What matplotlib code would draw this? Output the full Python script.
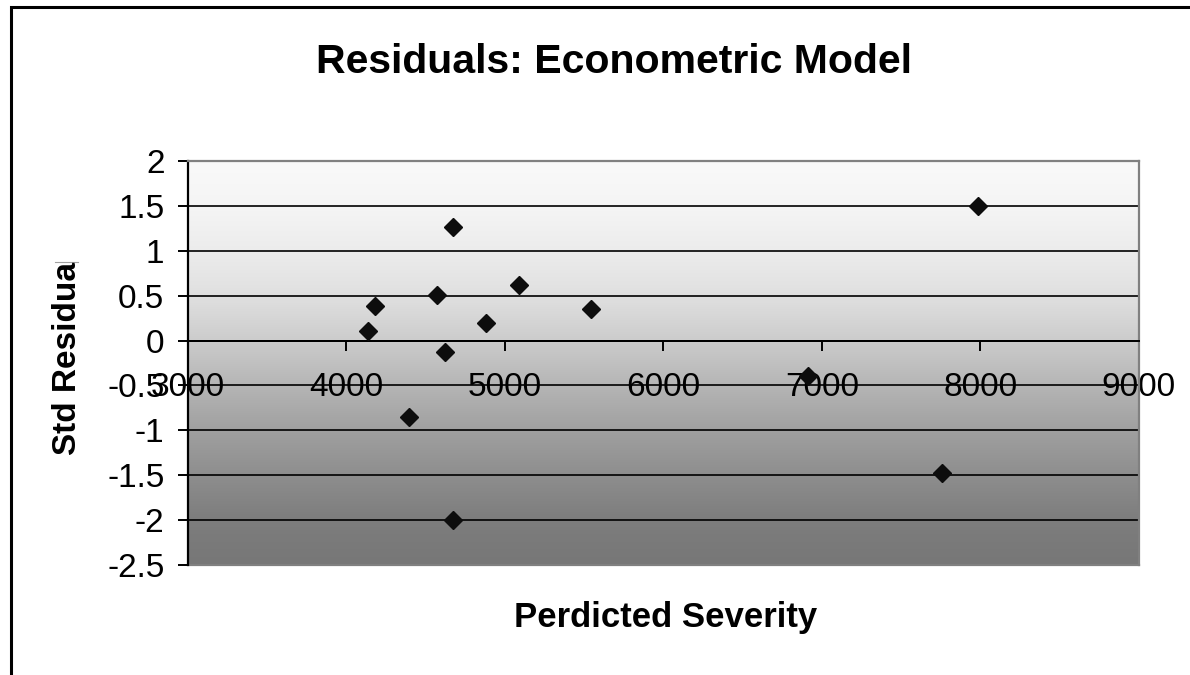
import numpy as np
import matplotlib
matplotlib.use("Agg")
import matplotlib.pyplot as plt
from matplotlib.patches import Rectangle
from matplotlib.lines import Line2D
from matplotlib.colors import LinearSegmentedColormap

plt.rcParams['font.family'] = ['Liberation Sans', 'DejaVu Sans']

# Predicted severity vs standardized residuals
predicted_severity = [4138, 4180, 4395, 4570, 4622, 4671, 4671, 4881, 5087, 5543, 6915, 7760, 7988]
std_residual = [0.11, 0.38, -0.85, 0.51, -0.13, 1.26, -2.0, 0.20, 0.62, 0.35, -0.40, -1.47, 1.50]

x_ticks = [3000, 4000, 5000, 6000, 7000, 8000, 9000]
y_ticks = [-2.5, -2, -1.5, -1, -0.5, 0, 0.5, 1, 1.5, 2]

W, H = 1190, 675
fig = plt.figure(figsize=(W / 100, H / 100), dpi=100)
fig.patch.set_facecolor('white')

def fx(px):
    return px / W

def fy(py):
    return 1 - py / H

ax = fig.add_axes([fx(188), fy(565), fx(1138.7) - fx(188), fy(161) - fy(565)])
ax.set_xlim(3000, 9000)
ax.set_ylim(-2.5, 2)

# vertical grey gradient background of the plot area (dark at the bottom)
shade = LinearSegmentedColormap.from_list(
    'shade', [(0.0, '#777777'), (0.111, '#7d7d7d'), (0.222, '#8e8e8e'),
              (0.333, '#a0a0a0'), (0.444, '#b5b5b5'), (0.556, '#cccccc'),
              (0.667, '#e0e0e0'), (0.778, '#ececec'), (0.889, '#f5f5f5'),
              (1.0, '#f9f9f9')])
grad = np.linspace(0, 1, 256).reshape(-1, 1)
ax.imshow(grad, extent=[3000, 9000, -2.5, 2], origin='lower', aspect='auto',
          cmap=shade, vmin=0, vmax=1, zorder=0, interpolation='bilinear')

# horizontal gridlines
for yv in y_ticks:
    if -2.5 < yv < 2:
        ax.axhline(yv, color='black', lw=1.2, zorder=1)

for side in ('top', 'right'):
    ax.spines[side].set_color('#808080')
    ax.spines[side].set_linewidth(1.6)
ax.spines['bottom'].set_position(('data', 0))
ax.spines['bottom'].set_color('black')
ax.spines['bottom'].set_linewidth(1.4)
ax.spines['left'].set_color('black')
ax.spines['left'].set_linewidth(1.6)
# grey bottom edge of the plot area
ax.axhline(-2.5, color='#808080', lw=1.6, zorder=1, clip_on=False)

ax.set_xticks(x_ticks)
ax.set_xticklabels([str(v) for v in x_ticks])
ax.set_yticks(y_ticks)
ax.set_yticklabels([f'{v:g}' for v in y_ticks])
ax.tick_params(axis='x', direction='out', length=7.5, width=1.4, pad=15,
               labelsize=24, colors='black')
ax.tick_params(axis='y', direction='out', length=7, width=1.4, pad=10,
               labelsize=24, colors='black')

ax.plot(predicted_severity, std_residual, linestyle='none', marker='D',
        markersize=9.5, color='#0d0d0d', zorder=3, clip_on=False)

# chart texts
fig.text(fx(614), fy(62), 'Residuals: Econometric Model', ha='center', va='center',
         fontsize=29.5, fontweight='bold')
fig.text(fx(666), fy(618), 'Perdicted Severity', ha='center', va='center',
         fontsize=25, fontweight='bold')
fig.text(fx(68), fy(262), 'Std Residua', ha='center', va='top', rotation=90,
         fontsize=24, fontweight='bold')
fig.add_artist(Line2D([fx(55), fx(78)], [fy(262), fy(262)], color='#a0a0a0',
                      lw=0.8, transform=fig.transFigure))

# outer chart frame
fig.add_artist(Rectangle((fx(11), -0.5), 2, fy(7) + 0.5, transform=fig.transFigure,
                         fill=False, edgecolor='black', lw=2.2, clip_on=False))

fig.savefig('out.png', dpi=100, facecolor='white')
